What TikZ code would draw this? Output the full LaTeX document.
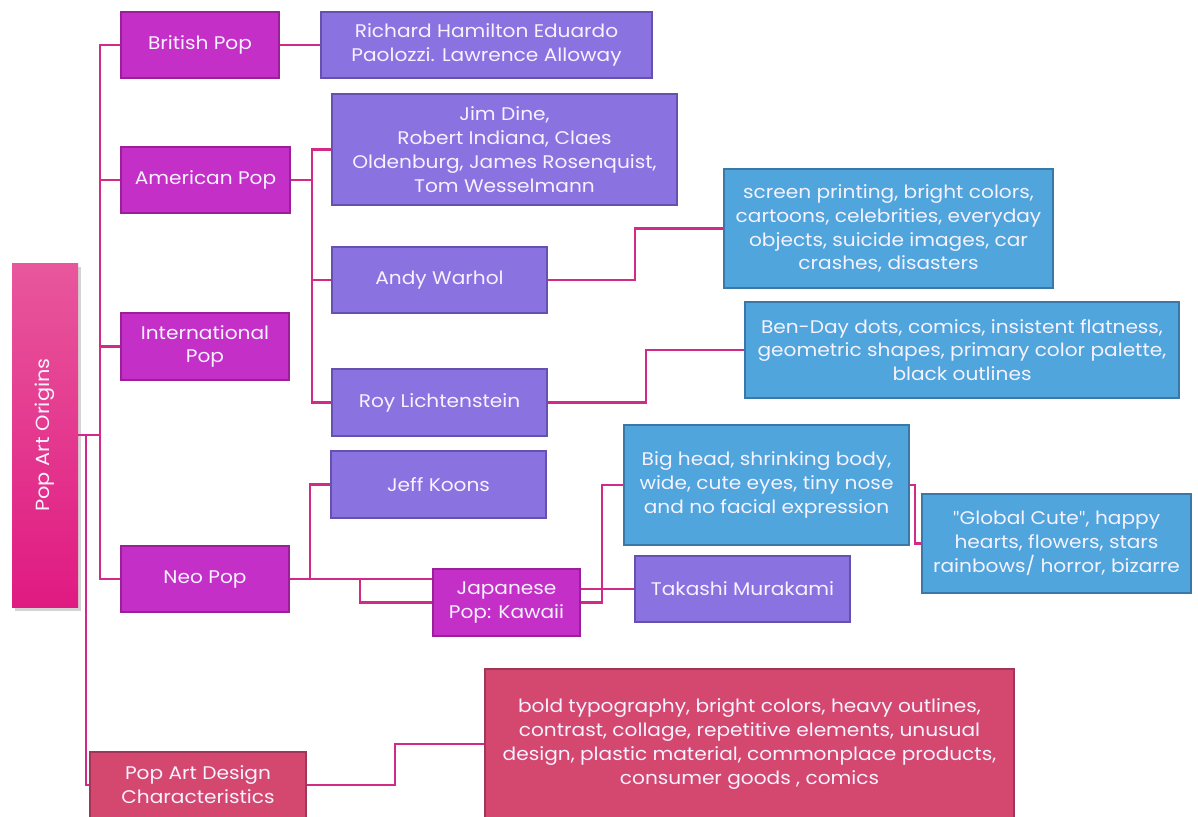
\documentclass[tikz,border=0pt]{standalone}
\usepackage{fontspec}
\setmainfont{Poppins}[FakeStretch=1.1]
\newfontfamily\qfont{Lato}
\newcommand\sq{{\qfont\symbol{34}}}
\usetikzlibrary{shadows,calc}
\definecolor{mag}{HTML}{C42FC8}
\definecolor{magb}{HTML}{9A1F98}
\definecolor{pur}{HTML}{8A73E1}
\definecolor{purb}{HTML}{6650B0}
\definecolor{blu}{HTML}{4FA5DC}
\definecolor{blub}{HTML}{3A78A8}
\definecolor{red}{HTML}{D4476F}
\definecolor{redb}{HTML}{A0365A}
\definecolor{lnk}{HTML}{D42A87}
\definecolor{rtop}{HTML}{E8579C}
\definecolor{rbot}{HTML}{E01A82}
\definecolor{txt}{HTML}{F6F2FF}
\begin{document}
\begin{tikzpicture}[x=1pt,y=-1pt,
  box/.style={rectangle,draw,line width=1.6pt,inner sep=0pt,align=center,text=txt,
    font=\fontsize{18.3}{23.8}\selectfont},
  magbox/.style={box,fill=mag,draw=magb},
  purbox/.style={box,fill=pur,draw=purb},
  blubox/.style={box,fill=blu,draw=blub},
  redbox/.style={box,fill=red,draw=redb},
  sz/.style 2 args={minimum width=#1pt,minimum height=#2pt},
  conn/.style={draw=lnk,line width=2.2pt}]
\useasboundingbox (0,0) rectangle (1198,816);
% root
\node[rectangle,inner sep=0pt,minimum width=66pt,minimum height=344pt,
  top color=rtop,bottom color=rbot,
  drop shadow={shadow xshift=3pt,shadow yshift=-4pt,opacity=0.35}] (root) at (45,435) {};
\node[rotate=90,text=txt,font=\fontsize{19}{20}\selectfont] (roottxt) at (root.center) {Pop Art Origins};
% level 1
\node[magbox,sz={158}{66}] (brit) at (200,45) {British Pop};
\node[magbox,sz={169}{66}] (amer) at (205.5,180) {American Pop};
\node[magbox,sz={168}{67}] (intl) at (205,346.5) {International\\Pop};
\node[magbox,sz={168}{66}] (neo) at (205,579) {Neo Pop};
\node[redbox,sz={216}{66}] (pad) at (198,785) {Pop Art Design\\Characteristics};
% level 2
\node[purbox,sz={331}{66}] (rich) at (486.5,45) {Richard Hamilton Eduardo\\Paolozzi. Lawrence Alloway};
\node[purbox,sz={345}{111}] (jim) at (504.5,149.5) {Jim Dine,\\Robert Indiana, Claes\\Oldenburg, James Rosenquist,\\Tom Wesselmann};
\node[purbox,sz={215}{66}] (warhol) at (439.5,280) {Andy Warhol};
\node[purbox,sz={215}{67}] (roy) at (439.5,402.5) {Roy Lichtenstein};
\node[purbox,sz={215}{67}] (jeff) at (438.5,484.5) {Jeff Koons};
\node[magbox,sz={147}{67}] (jap) at (506.5,602.5) {Japanese\\Pop: Kawaii};
\node[purbox,sz={215}{66}] (taka) at (742.5,589) {Takashi Murakami};
% level 3
\node[blubox,sz={329}{119}] (screen) at (888.5,228.5) {screen printing, bright colors,\\cartoons, celebrities, everyday\\objects, suicide images, car\\crashes, disasters};
\node[blubox,sz={434}{96}] (ben) at (962,350) {Ben-Day dots, comics, insistent flatness,\\geometric shapes, primary color palette,\\black outlines};
\node[blubox,sz={285}{120}] (big) at (766.5,485) {Big head, shrinking body,\\wide, cute eyes, tiny nose\\and no facial expression};
\node[blubox,sz={269}{99}] (glob) at (1056.5,543.5) {\sq Global Cute\sq, happy\\hearts, flowers, stars\\rainbows/ horror, bizarre};
\node[redbox,sz={529}{150}] (bold) at (749.5,744) {bold typography, bright colors, heavy outlines,\\contrast, collage, repetitive elements, unusual\\design, plastic material, commonplace products,\\consumer goods , comics};
% junction coordinates
\coordinate (t1) at (100,435);
\coordinate (t2) at (86,435);
\coordinate (a1) at (312,180);
\coordinate (w1) at (635,250);
\coordinate (r1) at (646,380);
\coordinate (n1) at (310,530);
\coordinate (n2) at (360,590);
\coordinate (j1) at (602,540);
\coordinate (b1) at (915,510);
\coordinate (p1) at (395,760);
% connectors
\draw[conn] (root.east |- t1) -- (t1);
\draw[conn] (brit.west) -| (t1);
\draw[conn] (amer.west) -| (t1);
\draw[conn] (intl.west) -| (t1);
\draw[conn] (neo.west) -| (t1);
\draw[conn] (pad.west) -| (t2);
\draw[conn] (brit.east) -- (rich.west);
\draw[conn] (amer.east) -- (a1);
\draw[conn] (jim.west) -| (a1);
\draw[conn] (warhol.west) -| (a1);
\draw[conn] (roy.west) -| (a1);
\draw[conn] (warhol.east) -| (w1) |- (screen.west);
\draw[conn] (roy.east) -| (r1) |- (ben.west);
\draw[conn] (neo.east) -| (n1) |- (jeff.west);
\draw[conn] (neo.east) -| (n2) |- (jap.west);
\draw[conn] (neo.east) -- (jap.west |- neo.east);
\draw[conn] (jap.east) -| (j1) |- (big.west);
\draw[conn] (jap.east |- taka.west) -- (taka.west);
\draw[conn] (big.east) -| (b1) |- (glob.west);
\draw[conn] (pad.east) -| (p1) |- (bold.west);
\end{tikzpicture}
\end{document}
